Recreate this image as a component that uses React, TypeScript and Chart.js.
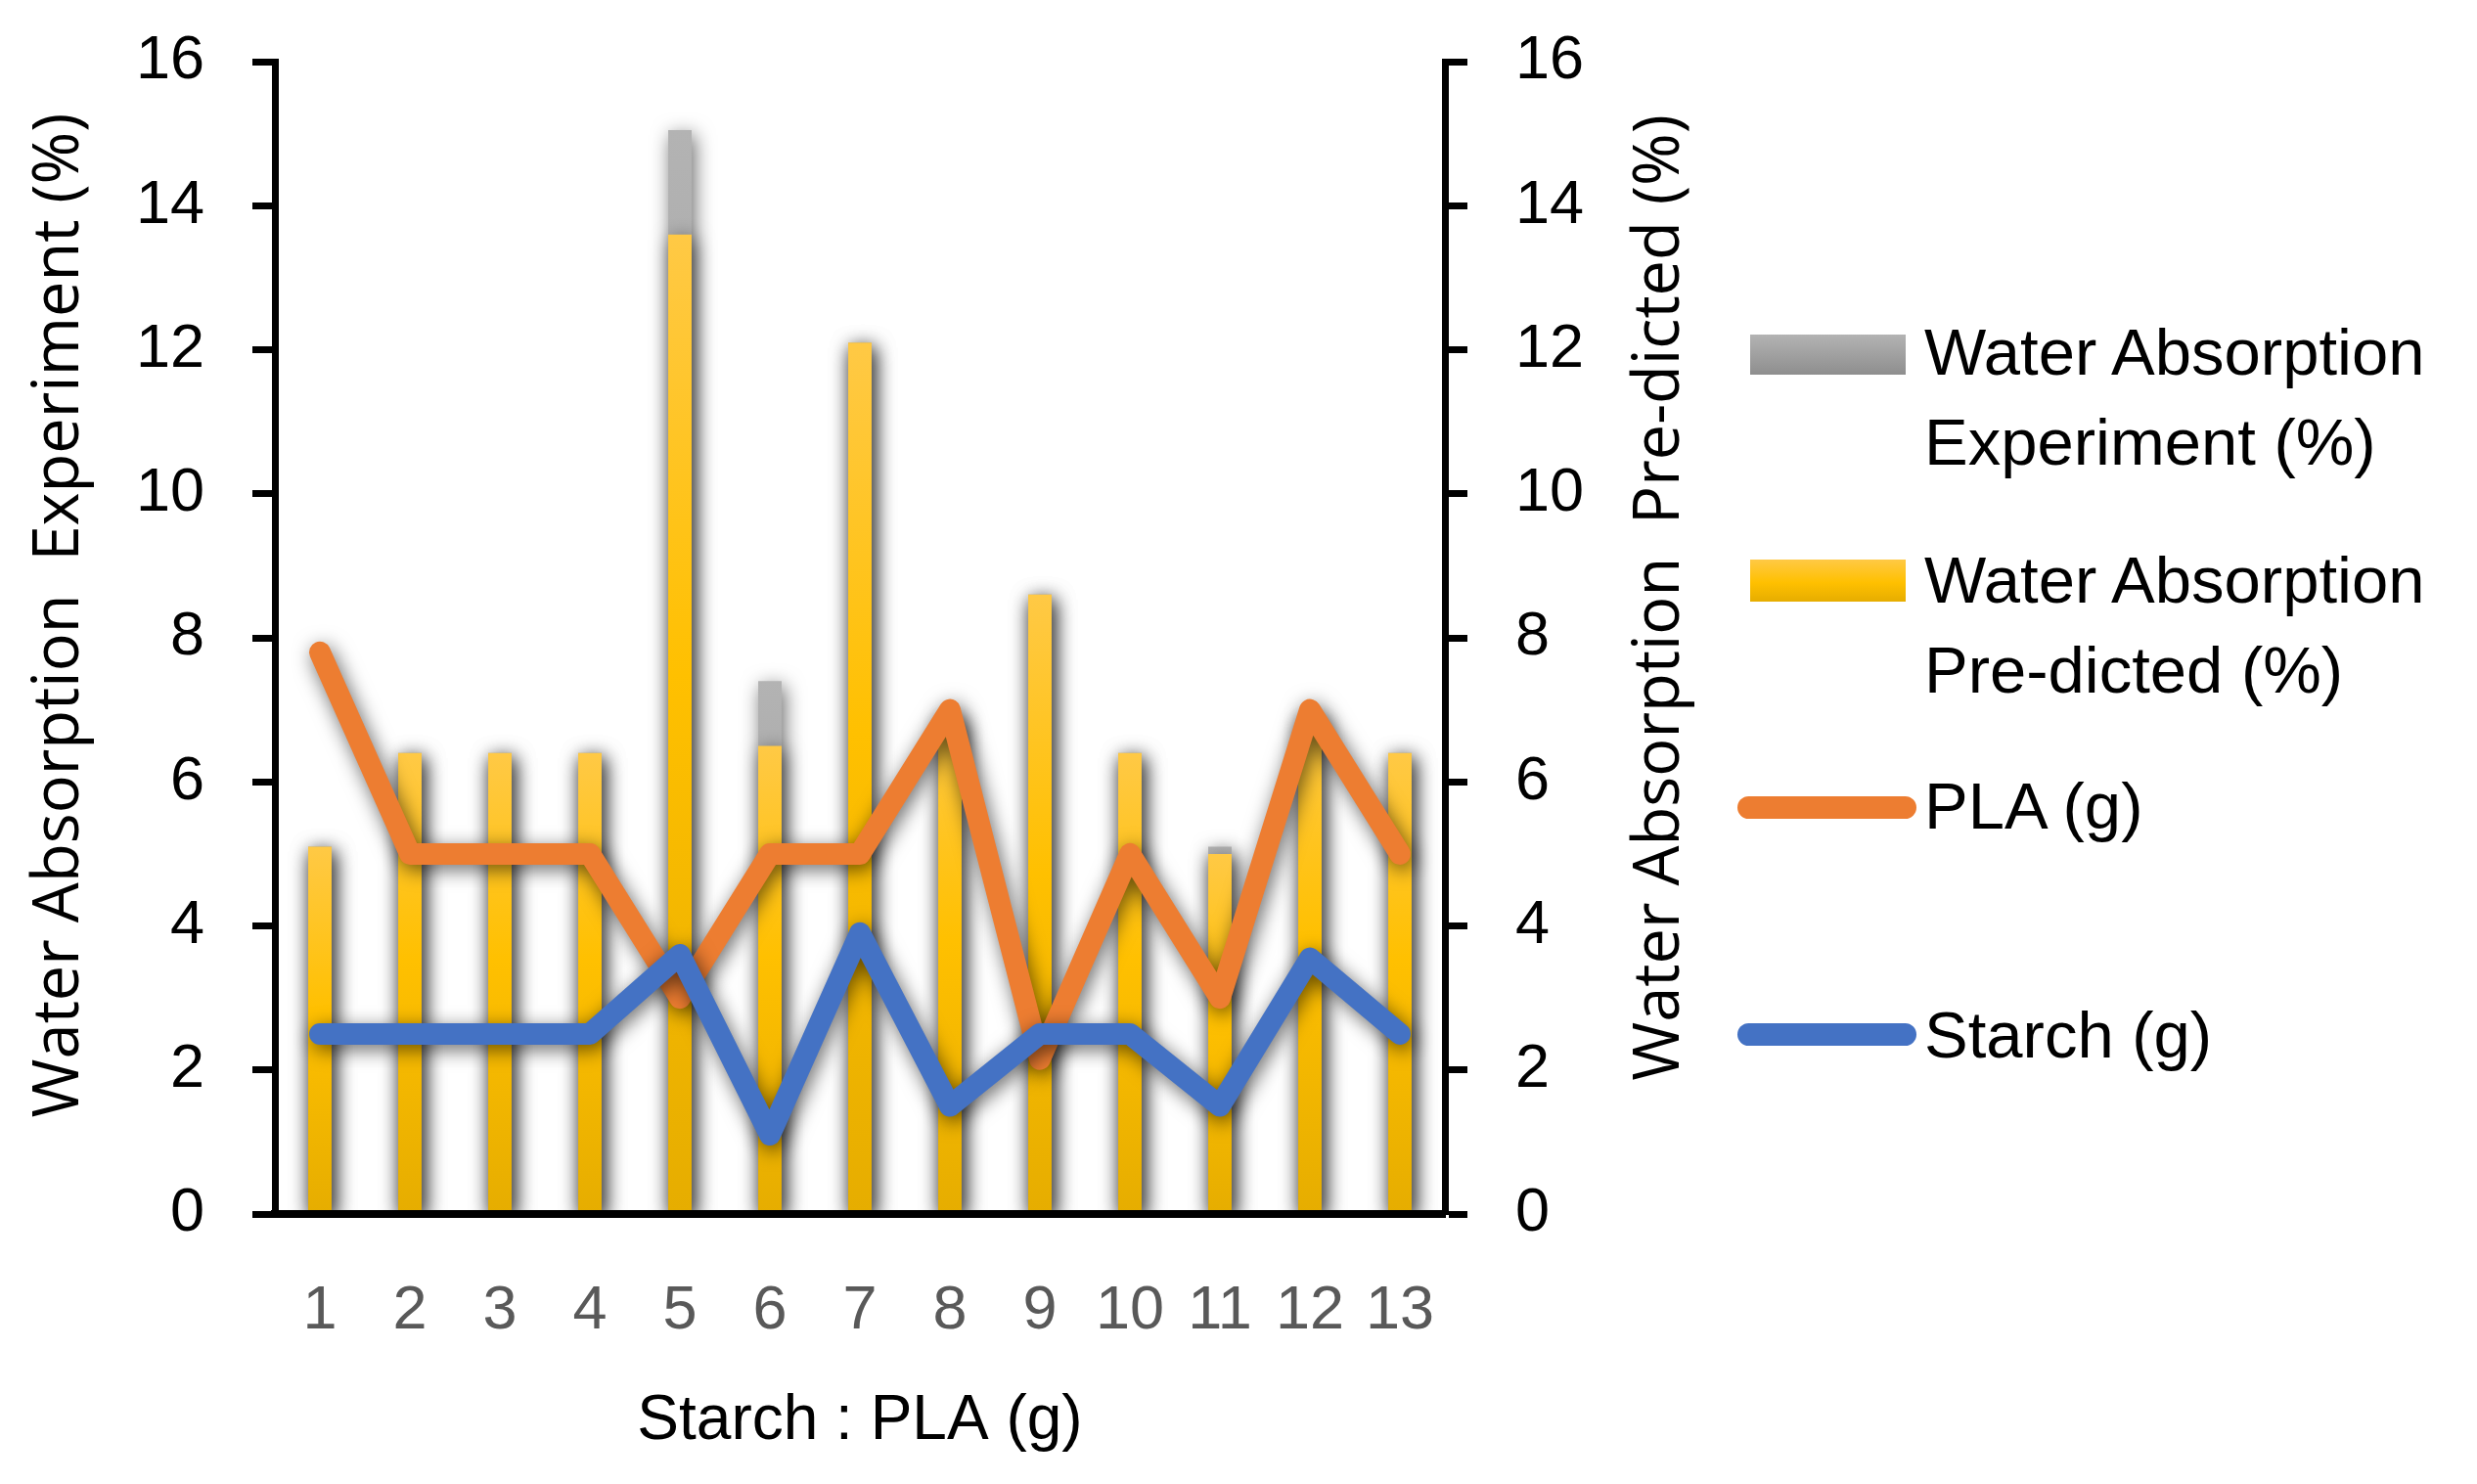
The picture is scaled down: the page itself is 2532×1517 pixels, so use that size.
import { useEffect, useRef } from 'react';
import { Chart, registerables } from 'chart.js';

Chart.register(...registerables);

// data
const samples = ['1', '2', '3', '4', '5', '6', '7', '8', '9', '10', '11', '12', '13'];
const waterExperiment = [5.1, 6.4, 6.4, 6.4, 15.05, 7.4, 12.1, 6.9, 8.6, 6.4, 5.1, 6.9, 6.4];
const waterPredicted = [5.1, 6.4, 6.4, 6.4, 13.6, 6.5, 12.1, 6.9, 8.6, 6.4, 5.0, 6.9, 6.4];
const plaGrams = [7.8, 5, 5, 5, 3, 5, 5, 7, 2.15, 5, 3, 7, 5];
const starchGrams = [2.5, 2.5, 2.5, 2.5, 3.6, 1.1, 3.9, 1.5, 2.5, 2.5, 1.5, 3.55, 2.5];
const yTicks = [0, 2, 4, 6, 8, 10, 12, 14, 16];

const leftTitle = 'Water Absorption  Experiment (%)';
const rightTitle = 'Water Absorption  Pre-dicted (%)';

const GRAY = ['#b3b3b3', '#a5a5a5', '#8e8e8e'];
const GOLD = ['#ffc945', '#ffc000', '#e6ad00'];
const ORANGE = '#ed7d31';
const BLUE = '#4472c4';

const TICK_FONT = { family: '"Liberation Sans", Arial, sans-serif', size: 63 };
const TITLE_FONT = '65px "Open Sans", "DejaVu Sans", sans-serif';

const barGradient = (stops: string[], axis: string) => (c: any) => {
  const chart = c.chart;
  const scale = chart.scales ? chart.scales[axis] : null;
  if (!chart.chartArea || !scale || c.type !== 'data') return stops[1];
  const top = scale.getPixelForValue(c.raw);
  const base = scale.getPixelForValue(0);
  if (!isFinite(top) || !isFinite(base) || top === base) return stops[1];
  const g = chart.ctx.createLinearGradient(0, top, 0, base);
  g.addColorStop(0, stops[0]);
  g.addColorStop(0.45, stops[1]);
  g.addColorStop(1, stops[2]);
  return g;
};

// soft drop shadow under bars and lines, like the office chart
const shadowPlugin = {
  id: 'softShadow',
  beforeDatasetDraw(chart: any) {
    const ctx = chart.ctx;
    ctx.save();
    ctx.shadowColor = 'rgba(0,0,0,0.6)';
    ctx.shadowBlur = 20;
    ctx.shadowOffsetX = 3;
    ctx.shadowOffsetY = 5;
  },
  afterDatasetDraw(chart: any) {
    chart.ctx.restore();
  },
};

// both axis titles read bottom-to-top
const axisTitles = {
  id: 'axisTitles',
  afterDraw(chart: any) {
    const ctx = chart.ctx;
    const draw = (text: string, x: number, y: number) => {
      ctx.save();
      ctx.translate(x, y);
      ctx.rotate(-Math.PI / 2);
      ctx.font = TITLE_FONT;
      ctx.fillStyle = '#000';
      ctx.textAlign = 'center';
      ctx.textBaseline = 'alphabetic';
      ctx.fillText(text, 0, 0);
      ctx.restore();
    };
    draw(leftTitle, 80, 629);
    draw(rightTitle, 1716, 611);
  },
};

const yAxis = (position: 'left' | 'right', width: number) => ({
  type: 'linear' as const,
  position,
  min: 0,
  max: 16,
  afterBuildTicks: (s: any) => {
    s.ticks = yTicks.map((v) => ({ value: v }));
  },
  afterFit: (s: any) => {
    s.width = width;
    s.paddingTop = 0;
    s.paddingBottom = 0;
  },
  grid: {
    display: true,
    drawOnChartArea: false,
    drawTicks: true,
    tickLength: 23,
    tickWidth: 7,
    tickColor: '#000',
  },
  border: { display: true, color: '#000', width: 7, z: 1 },
  ticks: { color: '#000', font: TICK_FONT, padding: 49 },
  title: { display: false },
});

const lineSet = (label: string, data: number[], color: string, order: number) => ({
  type: 'line',
  label,
  data,
  yAxisID: 'y',
  borderColor: color,
  backgroundColor: color,
  borderWidth: 22,
  borderJoinStyle: 'round',
  borderCapStyle: 'round',
  pointRadius: 0,
  tension: 0,
  order,
});

const WaterChart = () => {
  const canvasRef = useRef<HTMLCanvasElement>(null);
  const chartRef = useRef<Chart | null>(null);

  useEffect(() => {
    const ctx = canvasRef.current!.getContext('2d')!;
    if (chartRef.current) chartRef.current.destroy();

    chartRef.current = new Chart(ctx, {
      type: 'bar',
      data: {
        labels: samples,
        datasets: [
          lineSet('Starch (g)', starchGrams, BLUE, 0) as any,
          lineSet('PLA (g)', plaGrams, ORANGE, 1) as any,
          {
            type: 'bar',
            label: 'Water Absorption Pre-dicted (%)',
            data: waterPredicted,
            yAxisID: 'y1',
            backgroundColor: barGradient(GOLD, 'y1'),
            grouped: false,
            barPercentage: 0.26,
            categoryPercentage: 1,
            order: 2,
          } as any,
          {
            type: 'bar',
            label: 'Water Absorption Experiment (%)',
            data: waterExperiment,
            yAxisID: 'y',
            backgroundColor: barGradient(GRAY, 'y'),
            grouped: false,
            barPercentage: 0.26,
            categoryPercentage: 1,
            order: 3,
          } as any,
        ],
      },
      options: {
        responsive: false,
        animation: false,
        layout: { padding: { top: 63, left: 0, right: 0, bottom: 0 } },
        plugins: {
          legend: { display: false },
          tooltip: { enabled: false },
        },
        scales: {
          x: {
            afterFit: (s: any) => {
              s.height = 276;
              s.paddingLeft = 0;
              s.paddingRight = 0;
            },
            grid: { display: false, drawTicks: false },
            border: { display: true, color: '#000', width: 8, z: 1 },
            ticks: { color: '#595959', font: TICK_FONT, padding: 62, maxRotation: 0, autoSkip: false },
            title: {
              display: true,
              text: 'Starch : PLA (g)',
              color: '#000',
              font: { family: '"Liberation Sans", Arial, sans-serif', size: 64 },
              padding: { top: 0, bottom: 25 },
            },
          },
          y: yAxis('left', 281),
          y1: yAxis('right', 293),
        },
      },
      plugins: [shadowPlugin, axisTitles],
    });

    return () => {
      if (chartRef.current) {
        chartRef.current.destroy();
        chartRef.current = null;
      }
    };
  }, []);

  return <canvas ref={canvasRef} width={1770} height={1517} style={{ position: 'absolute', left: 0, top: 0, width: 1770, height: 1517 }} />;
};

const legendText: React.CSSProperties = {
  position: 'absolute',
  left: 1967,
  font: '67px "Liberation Sans", Arial, sans-serif',
  lineHeight: '92px',
  whiteSpace: 'nowrap',
  color: '#000',
};

const Legend = () => (
  <>
    <div style={{ position: 'absolute', left: 1789, top: 342, width: 159, height: 41, background: `linear-gradient(${GRAY[0]}, ${GRAY[2]})` }} />
    <div style={{ ...legendText, top: 314 }}>
      Water Absorption
      <br />
      Experiment (%)
    </div>
    <div style={{ position: 'absolute', left: 1789, top: 572, width: 159, height: 43, background: `linear-gradient(${GOLD[0]}, ${GOLD[1]} 55%, ${GOLD[2]})` }} />
    <div style={{ ...legendText, top: 547 }}>
      Water Absorption
      <br />
      Pre-dicted (%)
    </div>
    <div style={{ position: 'absolute', left: 1776, top: 814, width: 183, height: 23, borderRadius: 12, background: ORANGE }} />
    <div style={{ ...legendText, top: 778 }}>PLA (g)</div>
    <div style={{ position: 'absolute', left: 1776, top: 1046, width: 183, height: 23, borderRadius: 12, background: BLUE }} />
    <div style={{ ...legendText, top: 1012 }}>Starch (g)</div>
  </>
);

export default function App() {
  return (
    <div style={{ position: 'fixed', left: 0, top: 0, width: 2532, height: 1517, background: '#fff', overflow: 'hidden' }}>
      <WaterChart />
      <Legend />
    </div>
  );
}
